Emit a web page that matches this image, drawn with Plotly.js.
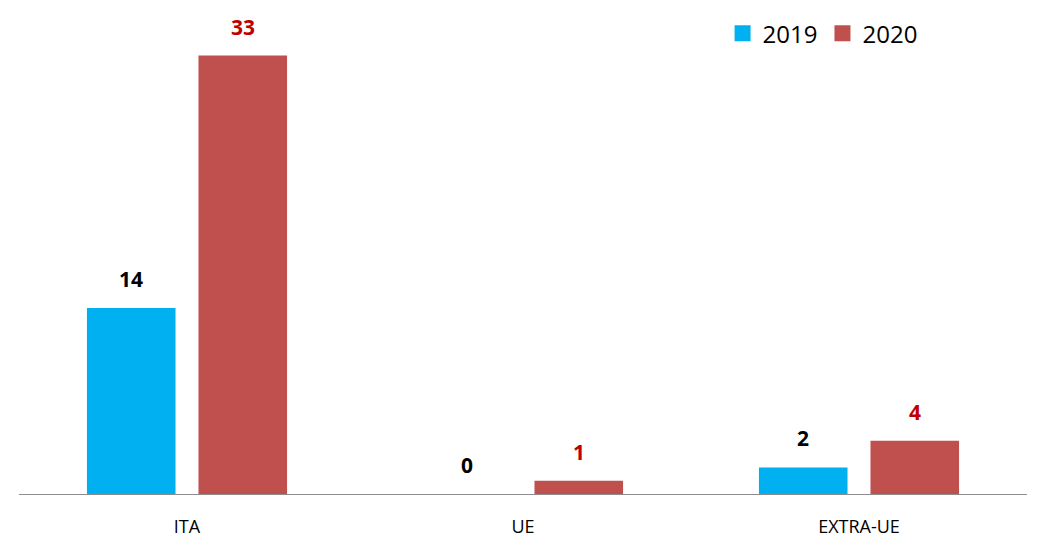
<!DOCTYPE html>
<html>
<head>
<meta charset="utf-8">
<script src="https://cdn.plot.ly/plotly-3.0.1.min.js"></script>
<style>html,body{margin:0;padding:0;background:#fff;}#chart{width:1049px;height:548px;}</style>
</head>
<body>
<div id="chart"></div>
<script>
const categories = ["ITA", "UE", "EXTRA-UE"];
const values2019 = [14, 0, 2];
const values2020 = [33, 1, 4];
const seriesNames = ["2019", "2020"];
const colors = ["#00B0F0", "#C0504D"];
const labelColors = ["#000000", "#C00000"];
const FONT = "Open Sans, Liberation Sans, sans-serif";

const traces = [
  {type: "bar", name: seriesNames[0], x: categories, y: values2019, marker: {color: colors[0]}, hoverinfo: "none", showlegend: false},
  {type: "bar", name: seriesNames[1], x: categories, y: values2020, marker: {color: colors[1]}, hoverinfo: "none", showlegend: false},
  {type: "scatter", mode: "markers", name: seriesNames[0], x: [null], y: [null], marker: {symbol: "square", size: 16, color: colors[0]}},
  {type: "scatter", mode: "markers", name: seriesNames[1], x: [null], y: [null], marker: {symbol: "square", size: 16, color: colors[1]}}
];

const annotations = [];
[values2019, values2020].forEach((vals, s) => {
  vals.forEach((v, i) => {
    annotations.push({
      x: categories[i], y: v, xref: "x", yref: "y",
      text: "<b>" + v + "</b>", showarrow: false,
      xanchor: "center", yanchor: "bottom",
      xshift: s === 0 ? -56 : 56, yshift: 13,
      font: {family: FONT, size: 21, color: labelColors[s]}
    });
  });
});

const layout = {
  width: 1049, height: 548,
  margin: {l: 19, r: 22, t: 28.5, b: 54, autoexpand: false},
  paper_bgcolor: "#fff", plot_bgcolor: "#fff",
  barmode: "group", bargap: 0.336, bargroupgap: 0.206,
  showlegend: true,
  legend: {orientation: "h", x: 0.698, y: 0.99, xanchor: "left", yanchor: "middle",
    font: {family: FONT, size: 24, color: "#000"},
    itemwidth: 30, tracegroupgap: 0},
  xaxis: {showline: true, linecolor: "#8c8c8c", linewidth: 1, ticks: "", showgrid: false,
    tickfont: {family: FONT, size: 18, color: "#000"},
    ticklabelstandoff: 16, fixedrange: true},
  yaxis: {range: [0, 35], visible: false, showgrid: false, zeroline: false},
  annotations: annotations
};

Plotly.newPlot("chart", traces, layout, {displayModeBar: false, staticPlot: true});
</script>
</body>
</html>
